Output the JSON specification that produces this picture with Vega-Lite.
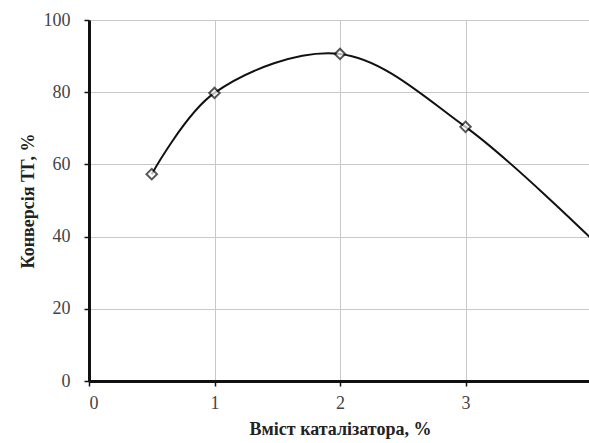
{
  "$schema": "https://vega.github.io/schema/vega-lite/v6.json",
  "autosize": {"type": "none"},
  "width": 502,
  "height": 361,
  "padding": {"left": 89, "top": 20, "right": 0, "bottom": 62},
  "background": "white",
  "config": {
    "view": {"stroke": null},
    "font": "Liberation Serif"
  },
  "data": {
    "values": [
      {"x": 0.5, "y": 57.3},
      {"x": 1, "y": 79.8},
      {"x": 2, "y": 90.6},
      {"x": 3, "y": 70.4},
      {"x": 4, "y": 39.5}
    ]
  },
  "encoding": {
    "x": {
      "field": "x", "type": "quantitative",
      "scale": {"domain": [0, 4], "nice": false},
      "axis": {
        "values": [0, 1, 2, 3, 4],
        "labelExpr": "datum.value == 4 ? '' : datum.label",
        "title": "Вміст каталізатора, %",
        "titleFont": "Liberation Serif", "titleFontSize": 18, "titleFontWeight": "bold",
        "titleColor": "#222", "titlePadding": 8,
        "labelFont": "Liberation Serif", "labelFontSize": 18, "labelColor": "#444",
        "labelPadding": 8,
        "domainColor": "#111", "domainWidth": 3,
        "tickColor": "#111", "tickSize": 5, "tickWidth": 1.5,
        "grid": true, "gridColor": "#c8c8c8", "gridWidth": 1
      }
    },
    "y": {
      "field": "y", "type": "quantitative",
      "scale": {"domain": [0, 100], "nice": false},
      "axis": {
        "values": [0, 20, 40, 60, 80, 100],
        "title": "Конверсія ТГ, %",
        "titleFont": "Liberation Serif", "titleFontSize": 18, "titleFontWeight": "bold",
        "titleColor": "#222", "titlePadding": 6,
        "labelFont": "Liberation Serif", "labelFontSize": 18, "labelColor": "#444",
        "labelPadding": 14,
        "domainColor": "#111", "domainWidth": 3,
        "tickColor": "#111", "tickSize": 5, "tickWidth": 1.5,
        "grid": true, "gridColor": "#c8c8c8", "gridWidth": 1
      }
    }
  },
  "layer": [
    {"mark": {"type": "line", "interpolate": "catmull-rom", "color": "#111", "strokeWidth": 2}},
    {"transform": [{"filter": "datum.x < 4"}],
     "mark": {"type": "point", "shape": "diamond", "size": 110, "filled": true, "fill": "white", "stroke": "#111", "strokeWidth": 2}}
  ]
}
